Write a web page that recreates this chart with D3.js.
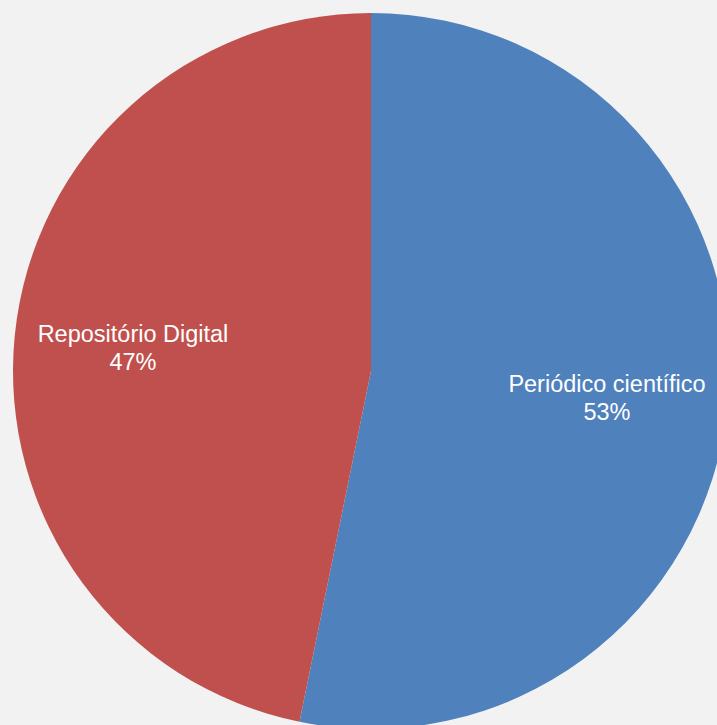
<!DOCTYPE html>
<html><head><meta charset="utf-8">
<script src="https://cdn.jsdelivr.net/npm/d3@7"></script>
<style>html,body{margin:0;padding:0;background:#f2f2f2;overflow:hidden}</style>
</head><body>
<svg id="c" width="717" height="725"></svg>
<script>
const categories = ["Periódico científico", "Repositório Digital"];
const values = [53.2, 46.8];
const colors = ["#4F81BD", "#C0504D"];
const labelPos = [[607, 392], [133, 342]];

const svg = d3.select("#c");
svg.append("rect").attr("width",717).attr("height",725).attr("fill","#f2f2f2");
const cx = 371, cy = 371, r = 358;
const pie = d3.pie().sort(null).value(d => d)(values);
const arc = d3.arc().innerRadius(0).outerRadius(r);
const g = svg.append("g").attr("transform", `translate(${cx},${cy})`);
g.selectAll("path").data(pie).join("path")
  .attr("d", arc).attr("fill", (d,i) => colors[i]);
const total = d3.sum(values);
pie.forEach((d,i) => {
  const t = svg.append("text").attr("x", labelPos[i][0]).attr("y", labelPos[i][1])
    .attr("text-anchor","middle").attr("fill","#fff")
    .attr("font-family","Liberation Sans, Arial, sans-serif").attr("font-size", 23.5);
  t.append("tspan").attr("x", labelPos[i][0]).text(categories[i]);
  t.append("tspan").attr("x", labelPos[i][0]).attr("dy", 28).text(Math.round(values[i]/total*100) + "%");
});
</script>
</body></html>
